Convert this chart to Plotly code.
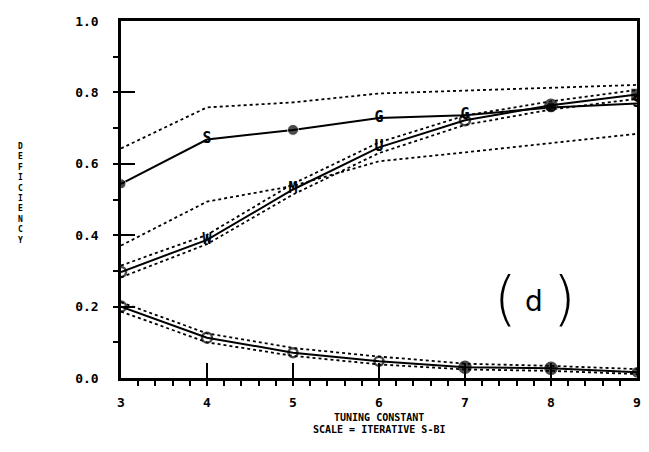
import plotly.graph_objects as go

# ---- data ----
x_tuning = [3, 4, 5, 6, 7, 8, 9]

a_mid   = [0.544, 0.668, 0.695, 0.728, 0.736, 0.758, 0.769]
a_upper = [0.643, 0.758, 0.772, 0.797, 0.805, 0.813, 0.821]
a_lower = [0.371, 0.494, 0.538, 0.607, 0.632, 0.657, 0.684]

b_mid   = [0.297, 0.387, 0.528, 0.646, 0.722, 0.764, 0.794]
b_upper = [0.315, 0.401, 0.544, 0.660, 0.735, 0.775, 0.807]
b_lower = [0.282, 0.375, 0.514, 0.630, 0.709, 0.752, 0.782]

c_mid   = [0.200, 0.113, 0.071, 0.047, 0.030, 0.027, 0.016]
c_upper = [0.212, 0.125, 0.084, 0.060, 0.040, 0.034, 0.025]
c_lower = [0.186, 0.100, 0.062, 0.038, 0.024, 0.020, 0.011]

a_marks = ["", "S", "", "G", "G", "", "S"]
b_marks = ["", "W", "M", "U", "", "", ""]

y_ticks = [0.0, 0.2, 0.4, 0.6, 0.8, 1.0]
y_tick_text = ["0.0", "0.2", "0.4", "0.6", "0.8", "1.0"]
x_ticks = [3, 4, 5, 6, 7, 8, 9]

x_title_1 = "TUNING CONSTANT"
x_title_2 = "SCALE = ITERATIVE S-BI"
y_title = "DEFICIENCY"
panel_label = "d"

MONO = "DejaVu Sans Mono"
fig = go.Figure()

dash_style = dict(color="black", width=1.8, dash="3px,3px")
for ys in (a_upper, a_lower, b_upper, b_lower, c_upper, c_lower):
    fig.add_trace(go.Scatter(x=x_tuning, y=ys, mode="lines", line=dash_style,
                             hoverinfo="skip", showlegend=False))

# solid middle curves
fig.add_trace(go.Scatter(
    x=x_tuning, y=a_mid, mode="lines+markers+text", text=a_marks,
    textposition="middle center",
    textfont=dict(family=MONO, size=15, color="black", weight="bold"),
    line=dict(color="black", width=2),
    marker=dict(color="black", size=[10, 0, 11, 0, 0, 11, 0], symbol="circle"),
    showlegend=False))

fig.add_trace(go.Scatter(
    x=x_tuning, y=b_mid, mode="lines+markers+text", text=b_marks,
    textposition="middle center",
    textfont=dict(family=MONO, size=15, color="black", weight="bold"),
    line=dict(color="black", width=2),
    marker=dict(color="black", size=[10, 0, 0, 0, 10, 11, 9],
                symbol=["circle-open", "circle", "circle", "circle", "circle-open",
                        "circle", "square"],
                line=dict(color="black", width=2.5)),
    showlegend=False))

fig.add_trace(go.Scatter(
    x=x_tuning, y=c_mid, mode="lines+markers",
    line=dict(color="black", width=2),
    marker=dict(color="black", size=[10, 10, 9, 9, 11, 11, 8],
                symbol=["circle-open", "circle-open", "circle-open", "circle-open",
                        "circle", "circle", "circle"],
                line=dict(color="black", width=2.5)),
    showlegend=False))

# panel label "( d )"
fig.add_annotation(x=7.47, y=0.222, text="(", showarrow=False,
                   font=dict(family="DejaVu Sans", size=58, color="black", weight=100))
fig.add_annotation(x=8.16, y=0.222, text=")", showarrow=False,
                   font=dict(family="DejaVu Sans", size=58, color="black", weight=100))
fig.add_annotation(x=7.80, y=0.215, text=panel_label, showarrow=False,
                   font=dict(family="DejaVu Sans", size=28, color="black"))

# stacked vertical y title
fig.add_annotation(xref="paper", yref="paper",
                   x=(20 - 121) / 516, y=(378 - 190) / 364,
                   text="<br>".join(list(y_title)), showarrow=False, align="center",
                   font=dict(family=MONO, size=8, color="black", weight="bold"),
                   xanchor="center", yanchor="middle")

# x title (two lines)
fig.add_annotation(xref="paper", yref="paper", x=0.5, y=(378 - 418) / 364,
                   text=x_title_1, showarrow=False,
                   font=dict(family=MONO, size=10, color="black", weight="bold"),
                   xanchor="center", yanchor="middle")
fig.add_annotation(xref="paper", yref="paper", x=0.5, y=(378 - 431) / 364,
                   text=x_title_2, showarrow=False,
                   font=dict(family=MONO, size=10, color="black", weight="bold"),
                   xanchor="center", yanchor="middle")

# page body has an 8px default margin: compensate so the plot lands where the reference has it
fig.update_layout(
    width=641, height=444,
    margin=dict(l=113, r=12, t=6, b=74),
    paper_bgcolor="white", plot_bgcolor="white",
    showlegend=False,
    xaxis=dict(range=[3, 9], tickvals=x_ticks, ticks="inside", ticklen=15,
               tickwidth=2, tickcolor="black",
               showline=True, linecolor="black", linewidth=2.5, mirror=True,
               showgrid=False, zeroline=False,
               ticklabelstandoff=11,
               tickfont=dict(family=MONO, size=13, color="black", weight="bold"),
               minor=dict(dtick=0.2, ticks="outside", ticklen=5, tickwidth=2,
                          tickcolor="black", showgrid=False)),
    yaxis=dict(range=[0, 1], tickvals=y_ticks, ticktext=y_tick_text,
               ticks="inside", ticklen=14, tickwidth=2, tickcolor="black",
               showline=True, linecolor="black", linewidth=2.5, mirror=True,
               showgrid=False, zeroline=False,
               ticklabelstandoff=17,
               tickfont=dict(family=MONO, size=13, color="black", weight="bold"),
               minor=dict(dtick=0.1, ticks="outside", ticklen=5, tickwidth=2,
                          tickcolor="black", showgrid=False)),
)

fig.write_html("out.html")
